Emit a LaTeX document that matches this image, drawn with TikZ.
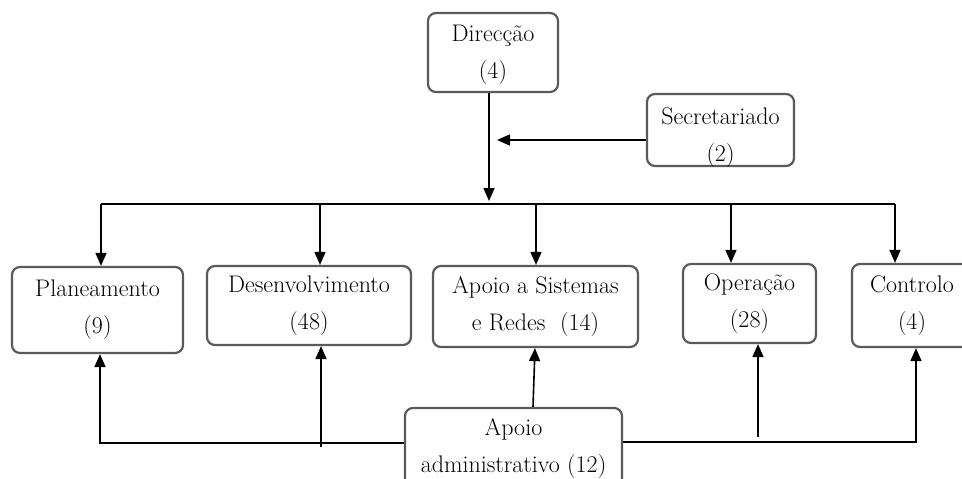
\documentclass[tikz,border=0pt]{standalone}
\usepackage{fontspec}
\usetikzlibrary{arrows.meta,calc}
\definecolor{boxgray}{HTML}{5A5A5A}
\newcommand\unitfont{\fontsize{24}{37}\selectfont\addfontfeature{FakeStretch=1.1}}
\tikzset{
  unit/.style={box/.style={draw=boxgray,line width=2.2pt,rounded corners=8pt,align=center,inner sep=0pt,
    font=\unitfont}},
  link/.style={line width=1.6pt,draw=black},
  arr/.style={link,-{Triangle[width=11pt,length=13pt]}}
}
\begin{document}
\begin{tikzpicture}[x=1pt,y=-1pt,unit]
\useasboundingbox (0,0) rectangle (962,479);
\clip (0,0) rectangle (962,479);

% units
\node[box,minimum width=130pt,minimum height=79pt] (dir) at (493,52.5) {};
\node[font=\unitfont,align=center] (dirtxt) at (493,55) {Direcção\\(4)};
\node[box,minimum width=147pt,minimum height=72pt] (sec) at (720.5,130) {};
\node at (720.5,138) [font=\unitfont,align=center] (sectxt) {Secretariado\\(2)};
\node[box,minimum width=171pt,minimum height=86pt] (plan) at (97.5,310) {Planeamento\\(9)};
\node[box,minimum width=204pt,minimum height=79pt] (desenv) at (309,305.5) {Desenvolvimento\\(48)};
\node[box,minimum width=205pt,minimum height=81pt] (apsis) at (535.5,306.5) {Apoio a Sistemas\\e Redes\ \ (14)};
\node[box,minimum width=133pt,minimum height=79pt] (oper) at (749.5,303.5) {Operação\\(28)};
\node[box,minimum width=120pt,minimum height=83pt] (ctrl) at (912,305.5) {Controlo\\(4)};
\node[box,minimum width=217pt,minimum height=90pt] (apadm) at (513.5,453) {};
\node[font=\unitfont,align=center] (apadmtxt) at (513.5,449) {Apoio\\administrativo (12)};

% distribution bus
\coordinate (busL) at (101,204);
\coordinate (busR) at (895,204);
\coordinate (busD) at (489,204);
\coordinate (secTip) at (497,140);
\draw[link] (busL) -- (busR);
\draw[arr] (dir.south -| busD) -- ($(busD)+(0,-3)$);
\draw[arr] (sec.west |- secTip) -- (secTip);
\draw[arr] (busL) -- (busL |- plan.north);
\draw[arr] (320,204) -- (320,0 |- desenv.north);
\draw[arr] (536,204) -- (536,0 |- apsis.north);
\draw[arr] (731,204) -- (731,0 |- oper.north);
\draw[arr] (busR) -- (busR |- ctrl.north);

% support links
\coordinate (lowL) at (100,443);
\coordinate (lowR) at (916,442);
\draw[arr] (apadm.west |- lowL) -- (lowL) -- (lowL |- plan.south);
\draw[arr] (321,447) -- (321,0 |- desenv.south);
\draw[arr] (apadm.north -| 533,0) -- (535,0 |- apsis.south);
\draw[arr] (apadm.east |- lowR) -- (lowR) -- (lowR |- ctrl.south);
\draw[arr] (758,437) -- (758,0 |- oper.south);
\end{tikzpicture}
\end{document}
